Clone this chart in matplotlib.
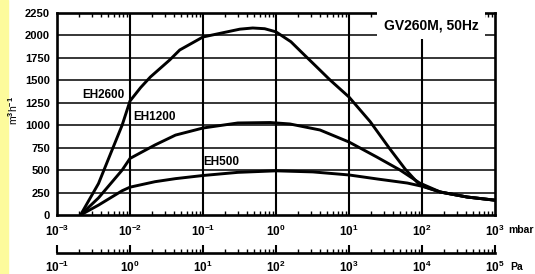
import matplotlib.pyplot as plt
import numpy as np

plt.rcParams['font.family'] = ['Liberation Sans', 'DejaVu Sans']
plt.rcParams['mathtext.fontset'] = 'custom'
plt.rcParams['mathtext.rm'] = 'Liberation Sans:bold'
plt.rcParams['mathtext.it'] = 'Liberation Sans:bold'
plt.rcParams['mathtext.bf'] = 'Liberation Sans:bold'

# pressure (mbar) and pumping speed (m3/h)
eh2600_p = [2.1e-3, 3.7e-3, 5.4e-3, 7.8e-3, 1e-2, 1.4e-2, 1.9e-2, 3.5e-2, 4.8e-2, 0.1,
            0.2, 0.32, 0.48, 0.7, 1.0, 1.6, 2.3, 3.5, 5.5, 10,
            19.5, 36, 59, 93, 178, 417, 1000]
eh2600_s = [0, 350, 680, 1000, 1270, 1420, 1537, 1727, 1838, 1983,
            2035, 2070, 2083, 2075, 2040, 1930, 1804, 1660, 1504, 1314,
            1040, 740, 510, 334, 256, 200, 165]

eh1200_p = [2.1e-3, 3.7e-3, 7.8e-3, 1e-2, 2.2e-2, 4.2e-2, 0.1, 0.3, 0.83, 1.55,
            4.0, 10, 24, 50, 93, 178, 417, 1000]
eh1200_s = [0, 190, 500, 630, 780, 890, 969, 1025, 1030, 1014,
            947, 813, 646, 501, 356, 256, 200, 165]

eh500_p = [2.1e-3, 3.7e-3, 7.8e-3, 1e-2, 2.2e-2, 4.2e-2, 0.1, 0.3, 1.0, 3.2,
           10, 25, 63, 100, 178, 417, 1000]
eh500_s = [0, 110, 270, 310, 371, 405, 440, 475, 492, 480,
           446, 400, 356, 320, 256, 200, 165]

labels = ['EH2600', 'EH1200', 'EH500']
y_ticks = [0, 250, 500, 750, 1000, 1250, 1500, 1750, 2000, 2250]
mbar_ticks = [1e-3, 1e-2, 1e-1, 1e0, 1e1, 1e2, 1e3]
pa_ticks = [1e-1, 1e0, 1e1, 1e2, 1e3, 1e4, 1e5]

fig = plt.figure(figsize=(5.35, 2.74), dpi=100)
fig.patches.append(plt.Rectangle((0, 0), 8 / 535, 1, transform=fig.transFigure,
                                 color='#fdfb9c', zorder=0))

ax = fig.add_axes([57 / 535, 59 / 274, 438 / 535, 202 / 274])
ax.set_xscale('log')
ax.set_xlim(1e-3, 1e3)
ax.set_ylim(0, 2250)

for v in y_ticks[1:-1]:
    ax.axhline(v, color='black', linewidth=1.1, zorder=1)
for v in mbar_ticks[1:-1]:
    ax.axvline(v, color='black', linewidth=1.5, zorder=1)

for p, s in [(eh2600_p, eh2600_s), (eh1200_p, eh1200_s), (eh500_p, eh500_s)]:
    ax.plot(p, s, color='black', linewidth=2.1, solid_capstyle='round',
            solid_joinstyle='round', zorder=3)

ax.text(2.2e-3, 1340, labels[0], fontsize=8.5, fontweight='bold', ha='left', va='center')
ax.text(1.1e-2, 1090, labels[1], fontsize=8.5, fontweight='bold', ha='left', va='center')
ax.text(1.0e-1, 590, labels[2], fontsize=8.5, fontweight='bold', ha='left', va='center')

ax.text(0.962, 0.94, 'GV260M, 50Hz', transform=ax.transAxes, fontsize=10, fontweight='bold',
        ha='right', va='center', zorder=5,
        bbox=dict(boxstyle='square,pad=0.5', facecolor='white', edgecolor='none'))

ax.set_yticks(y_ticks)
ax.set_yticklabels([str(v) for v in y_ticks], fontsize=8, fontweight='bold')
ax.set_xticks(mbar_ticks)
ax.set_xticklabels(['$10^{%d}$' % int(np.log10(v)) for v in mbar_ticks], fontsize=8.5)
ax.tick_params(axis='y', length=0, pad=5)
ax.tick_params(axis='x', which='major', direction='in', length=0, pad=6, top=True)
ax.tick_params(axis='x', which='minor', direction='in', length=3, width=1, top=True)
for sp in ax.spines.values():
    sp.set_linewidth(1.9)

fig.text(13 / 535, 1 - 110 / 274, 'm$^3$h$^{-1}$', fontsize=7.5, rotation=90,
         ha='center', va='center')
ax.text(1.03, -0.075, 'mbar', transform=ax.transAxes, fontsize=7.5, fontweight='bold',
        ha='left', va='center')

# pascal scale underneath
ax2 = fig.add_axes([57 / 535, 21 / 274, 438 / 535, 0.02])
ax2.set_xscale('log')
ax2.set_xlim(1e-1, 1e5)
for k in ['top', 'left', 'right']:
    ax2.spines[k].set_visible(False)
ax2.spines['bottom'].set_linewidth(1.9)
ax2.set_yticks([])
ax2.set_xticks(pa_ticks)
ax2.set_xticklabels(['$10^{%d}$' % int(np.log10(v)) for v in pa_ticks], fontsize=8.5)
ax2.tick_params(axis='x', which='major', direction='in', length=6, width=1.5, pad=5)
ax2.tick_params(axis='x', which='minor', direction='in', length=3, width=1)
ax2.patch.set_alpha(0)
fig.text(510 / 535, 1 - 267 / 274, 'Pa', fontsize=7.5, fontweight='bold', ha='left', va='center')

fig.savefig('out.png', dpi=100)
